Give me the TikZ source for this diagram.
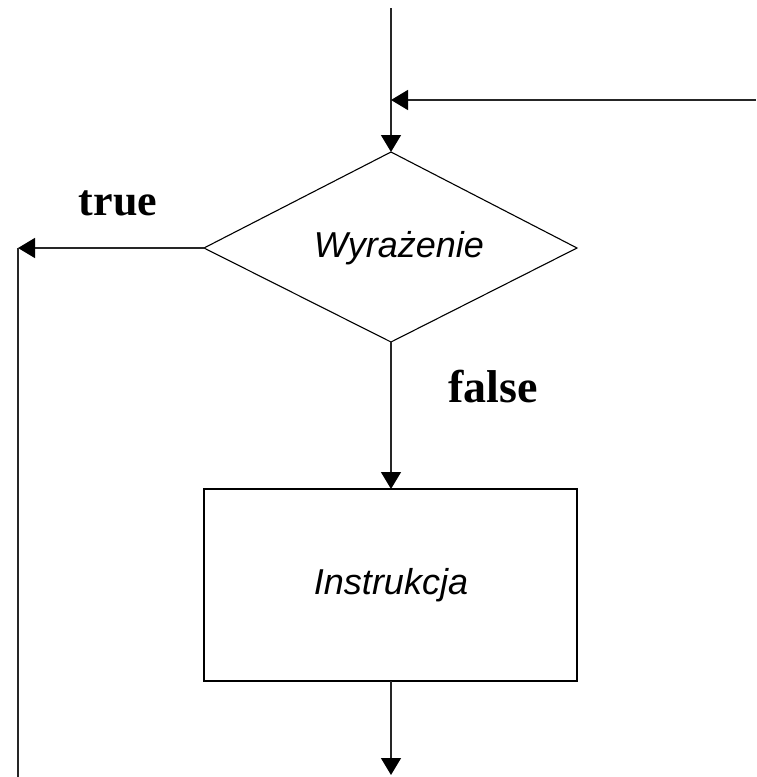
\documentclass[tikz,border=0pt]{standalone}
\usepackage{fontspec}
\setmainfont{Liberation Serif}
\newfontfamily\arialfont{Liberation Sans}
\usetikzlibrary{arrows.meta}
\begin{document}
\begin{tikzpicture}[x=1pt,y=-1pt,
  flow/.style={line width=1.3pt,draw=black!85,-{Triangle[length=17pt,width=20pt,color=black,fill=black]}},
  plain/.style={line width=1.3pt,draw=black!85},
  lbl/.style={font=\fontsize{44}{50}\selectfont\bfseries,inner sep=0pt},
  txt/.style={font=\arialfont\itshape\fontsize{36}{42}\selectfont,inner sep=0pt}]
\useasboundingbox (0,0) rectangle (756,777);
% decision and statement shapes
\coordinate (dT) at (391,152);
\coordinate (dL) at (204,248);
\coordinate (dR) at (577,248);
\coordinate (dB) at (391,342);
\draw[line width=1.1pt] (dT) -- (dR) -- (dB) -- (dL) -- cycle;
\node[txt] (cond) at (399,248) {Wyrażenie};
\draw[line width=1.1pt] (204,489) rectangle (577,681);
\coordinate (bT) at (391,489);
\coordinate (bB) at (391,681);
\node[txt] (body) at (391,585) {Instrukcja};
% connectors
\coordinate (entry) at (391,8);
\coordinate (join) at (391,100);
\coordinate (back) at (756,100);
\coordinate (exitL) at (18,248);
\coordinate (exitB) at (18,777);
\coordinate (out) at (391,775);
\draw[plain] (entry) -- (join);
\draw[flow] (join) -- (dT);
\draw[flow] (back) -- (join);
\draw[flow] (dL) -- (exitL);
\draw[plain] (exitL) -- (exitB);
\draw[flow] (dB) -- (bT);
\draw[flow] (bB) -- (out);
% branch labels
\node[lbl] (t) at (118,203) {true};
\node[lbl,font=\fontsize{46}{52}\selectfont\bfseries] (f) at (493,387) {false};
\end{tikzpicture}
\end{document}
